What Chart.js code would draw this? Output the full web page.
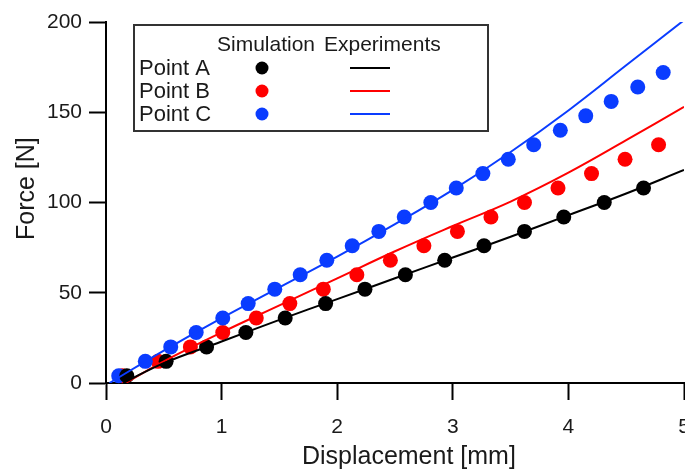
<!DOCTYPE html>
<html>
<head>
<meta charset="utf-8">
<script src="https://cdn.jsdelivr.net/npm/chart.js@4.4.1/dist/chart.umd.min.js"></script>
<style>
  html, body { margin: 0; padding: 0; background: #fff; }
</style>
</head>
<body>
<canvas id="chart" width="685" height="472"></canvas>
<script>
// Simulation results (dots): displacement [mm] vs force [N]
const simDispA = [0.18, 0.52, 0.87, 1.21, 1.55, 1.90, 2.24, 2.59, 2.93, 3.27, 3.62, 3.96, 4.31, 4.65];
const simForceA = [4, 12, 20, 28, 36, 44, 52, 60, 68, 76, 84, 92, 100, 108];
const simDispB = [0.14, 0.45, 0.73, 1.01, 1.30, 1.59, 1.88, 2.17, 2.46, 2.75, 3.04, 3.33, 3.62, 3.91, 4.20, 4.49, 4.78];
const simForceB = [4, 12, 20, 28, 36, 44, 52, 60, 68, 76, 84, 92, 100, 108, 116, 124, 132];
const simDispC = [0.11, 0.34, 0.56, 0.78, 1.01, 1.23, 1.46, 1.68, 1.91, 2.13, 2.36, 2.58, 2.81, 3.03, 3.26, 3.48, 3.70, 3.93, 4.15, 4.37, 4.60, 4.82];
const simForceC = [4, 12, 20, 28, 36, 44, 52, 60, 68, 76, 84, 92, 100, 108, 116, 124, 132, 140, 148, 156, 164, 172];

// Experiment curves (lines)
const expDispA = [0.15, 0.5, 1, 1.5, 2, 2.5, 3, 3.5, 4, 4.5, 5];
const expForceA = [0, 11, 23, 35, 46.5, 58, 69.5, 81, 93, 105, 118];
const expDispB = [0.17, 0.5, 1, 1.5, 2, 2.5, 3, 3.5, 4, 4.5, 5];
const expForceB = [0, 12, 28, 43, 58, 73, 87, 100.5, 116.5, 134.5, 153];
const expDispC = [0.03, 0.5, 1, 1.5, 2, 2.5, 3, 3.5, 4, 4.5, 5];
const expForceC = [0, 18, 36, 53, 70, 88, 107, 128, 151, 176, 201];

const seriesNames = ['Point A', 'Point B', 'Point C'];
const seriesColors = ['#000000', '#ff0000', '#0a3cff'];
const legendHeaders = ['Simulation', 'Experiments'];

const xTitle = 'Displacement [mm]';
const yTitle = 'Force [N]';

const FONT = "'Liberation Sans', Arial, sans-serif";
const TEXT = '#1a1a1a';

function pairs(xs, ys) {
	return xs.map((x, i) => ({ x, y: ys[i] }));
}

const sims = [[simDispA, simForceA], [simDispB, simForceB], [simDispC, simForceC]];
const exps = [[expDispA, expForceA], [expDispB, expForceB], [expDispC, expForceC]];

const datasets = [];
exps.forEach(([xs, ys], i) => {
	datasets.push({
		label: seriesNames[i] + ' exp',
		type: 'line',
		data: pairs(xs, ys),
		borderColor: seriesColors[i],
		borderWidth: 2,
		pointRadius: 0,
		tension: 0.4,
		fill: false,
		order: 0
	});
});
sims.forEach(([xs, ys], i) => {
	datasets.push({
		label: seriesNames[i] + ' sim',
		type: 'scatter',
		data: pairs(xs, ys),
		backgroundColor: seriesColors[i],
		borderWidth: 0,
		pointRadius: 7.5,
		pointHoverRadius: 7.5,
		showLine: false,
		clip: false,
		order: i === 0 ? 1 : (i === 2 ? 2 : 3)
	});
});

// two-column legend box: Simulation (dot) / Experiments (line)
const tableLegend = {
	id: 'tableLegend',
	afterDraw(chart) {
		const ctx = chart.ctx;
		ctx.save();
		ctx.fillStyle = '#fff';
		ctx.fillRect(134, 25, 354, 106);
		ctx.lineWidth = 2;
		ctx.strokeStyle = '#333';
		ctx.strokeRect(134, 25, 354, 106);

		ctx.fillStyle = TEXT;
		ctx.textBaseline = 'middle';
		ctx.textAlign = 'left';
		ctx.font = '21px ' + FONT;
		ctx.fillText(legendHeaders[0], 217, 45);
		ctx.fillText(legendHeaders[1], 324, 45);

		const rows = [68, 91, 114];
		seriesNames.forEach((name, i) => {
			const y = rows[i];
			ctx.fillStyle = TEXT;
			ctx.font = '22px ' + FONT;
			ctx.fillText(name, 139, y + 1);
			ctx.fillStyle = seriesColors[i];
			ctx.beginPath();
			ctx.arc(262, y, 6.5, 0, Math.PI * 2);
			ctx.fill();
			ctx.strokeStyle = seriesColors[i];
			ctx.lineWidth = 2;
			ctx.beginPath();
			ctx.moveTo(350, y);
			ctx.lineTo(390, y);
			ctx.stroke();
		});
		ctx.restore();
	}
};

new Chart(document.getElementById('chart'), {
	type: 'scatter',
	data: { datasets },
	options: {
		responsive: false,
		animation: false,
		events: [],
		layout: { autoPadding: false, padding: { top: 22, right: 1, bottom: 0, left: 0 } },
		plugins: {
			legend: { display: false },
			tooltip: { enabled: false }
		},
		scales: {
			x: {
				type: 'linear',
				min: 0,
				max: 5,
				ticks: { stepSize: 1, color: TEXT, font: { family: FONT, size: 21 }, padding: 15, maxRotation: 0 },
				grid: { drawOnChartArea: false, tickLength: 17, tickColor: '#000', tickWidth: 2 },
				border: { display: true, color: '#000', width: 2 },
				title: { display: true, text: '    ' + xTitle, color: TEXT, font: { family: FONT, size: 25 }, padding: { top: 0, bottom: 0 } },
				afterFit(s) {
					s.height = 89;
					s.paddingLeft = 0;
					s.paddingRight = 0;
				}
			},
			y: {
				type: 'linear',
				min: 0,
				max: 200,
				ticks: { stepSize: 50, color: TEXT, font: { family: FONT, size: 21 }, padding: 7 },
				grid: { drawOnChartArea: false, tickLength: 17, tickColor: '#000', tickWidth: 2 },
				border: { display: true, color: '#000', width: 2 },
				title: { display: true, text: '    ' + yTitle, color: TEXT, font: { family: FONT, size: 25 }, padding: { top: 12, bottom: 0 } },
				afterFit(s) {
					s.width = 106;
					s.paddingTop = 0;
					s.paddingBottom = 0;
				}
			}
		}
	},
	plugins: [tableLegend]
});
</script>
</body>
</html>
